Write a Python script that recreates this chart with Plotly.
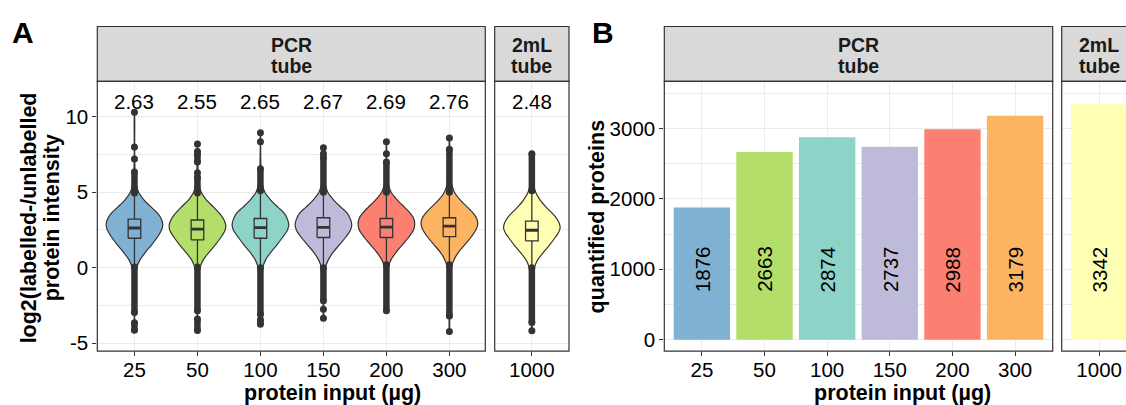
import plotly.graph_objects as go

W, H = 1126, 405
FONT = "Liberation Sans, Arial, sans-serif"

# ---------------- data ----------------
DOSES_PCR = ["25", "50", "100", "150", "200", "300"]
DOSES_2ML = ["1000"]
FACET_LABELS = [["PCR", "tube"], ["2mL", "tube"]]
COLORS = ["#80B1D3", "#B3DE69", "#8DD3C7", "#BEBADA", "#FB8072", "#FDB462", "#FFFFB3"]

MEDIAN_LABELS = ["2.63", "2.55", "2.65", "2.67", "2.69", "2.76", "2.48"]
BOX_Q1 = [1.95, 1.84, 1.95, 2.00, 2.00, 2.06, 1.78]
BOX_MED = [2.63, 2.55, 2.65, 2.67, 2.69, 2.76, 2.48]
BOX_Q3 = [3.22, 3.16, 3.26, 3.31, 3.26, 3.31, 3.09]
WHISK_LO = [0.05, 0.05, 0.0, 0.0, 0.2, 0.2, 0.0]
WHISK_HI = [4.95, 4.95, 5.1, 5.0, 5.0, 5.0, 5.1]

# dense outlier runs [low, high] per group
OUTLIER_RUNS = [
    [[4.95, 6.35], [-2.98, 0.05], [-4.15, -3.65]],
    [[4.95, 6.0], [7.0, 7.5], [-2.86, 0.05], [-4.17, -3.4]],
    [[5.1, 6.55], [-3.1, 0.0], [-3.75, -3.45]],
    [[5.0, 7.3], [-2.2, 0.0]],
    [[5.0, 7.0], [-2.86, 0.2]],
    [[5.0, 7.85], [-3.2, 0.2]],
    [[5.1, 7.55], [-3.64, 0.0]],
]
# isolated outliers per group
OUTLIER_POINTS = [
    [10.3, 8.0, 7.2],
    [8.2, 7.7, 6.3],
    [8.95, 8.35],
    [7.95, 7.55, -2.76, -3.35],
    [8.35, 7.55],
    [8.6, -4.23],
    [-4.18],
]

# violin outlines: y levels and half-widths (category units)
VIOLIN_Y = [
    [-4.18, -3, -2, -1, -0.5, 0, 0.5, 1, 1.5, 2, 2.5, 2.85, 3.2, 3.6, 4, 4.5, 5, 5.5, 6, 7, 8, 10.3],
    [-4.18, -3, -2, -1, -0.5, 0, 0.5, 1, 1.5, 2, 2.4, 2.75, 3.1, 3.5, 4, 4.5, 5, 5.5, 6, 7, 8.2],
    [-3.75, -3, -2, -1, -0.5, 0, 0.5, 1, 1.5, 2, 2.5, 2.85, 3.2, 3.6, 4, 4.5, 5, 5.5, 6, 7, 8, 8.95],
    [-3.35, -2, -1, -0.5, 0, 0.5, 1, 1.5, 2, 2.5, 2.85, 3.2, 3.6, 4, 4.5, 5, 5.5, 6, 7, 7.95],
    [-2.86, -2, -1, -0.5, 0, 0.5, 1, 1.5, 2, 2.5, 2.9, 3.3, 3.7, 4, 4.5, 5, 5.5, 6, 7, 8.35],
    [-4.23, -3, -2, -1, -0.5, 0, 0.5, 1, 1.5, 2, 2.5, 2.9, 3.3, 3.7, 4, 4.5, 5, 5.5, 6, 7, 8.6],
    [-4.18, -3, -2, -1, -0.5, 0, 0.5, 1, 1.5, 2, 2.3, 2.65, 3.0, 3.4, 4, 4.5, 5, 5.5, 6, 7, 7.55],
]
VIOLIN_W = [
    [0.002, 0.003, 0.005, 0.01, 0.018, 0.035, 0.085, 0.17, 0.27, 0.36, 0.43, 0.45, 0.43, 0.37, 0.27, 0.15, 0.065, 0.03, 0.014, 0.005, 0.003, 0.001],
    [0.002, 0.003, 0.005, 0.01, 0.018, 0.04, 0.09, 0.18, 0.28, 0.37, 0.43, 0.45, 0.43, 0.37, 0.26, 0.14, 0.06, 0.028, 0.013, 0.005, 0.001],
    [0.002, 0.003, 0.005, 0.01, 0.018, 0.035, 0.08, 0.16, 0.26, 0.35, 0.43, 0.45, 0.43, 0.38, 0.28, 0.16, 0.07, 0.032, 0.015, 0.006, 0.003, 0.001],
    [0.002, 0.004, 0.009, 0.016, 0.03, 0.075, 0.15, 0.25, 0.35, 0.43, 0.45, 0.43, 0.38, 0.28, 0.16, 0.07, 0.032, 0.016, 0.006, 0.001],
    [0.002, 0.004, 0.008, 0.014, 0.028, 0.07, 0.15, 0.25, 0.35, 0.43, 0.45, 0.43, 0.36, 0.29, 0.17, 0.075, 0.034, 0.016, 0.006, 0.001],
    [0.002, 0.003, 0.005, 0.009, 0.015, 0.03, 0.07, 0.14, 0.24, 0.34, 0.42, 0.45, 0.43, 0.36, 0.29, 0.17, 0.08, 0.038, 0.018, 0.007, 0.001],
    [0.002, 0.003, 0.006, 0.012, 0.02, 0.04, 0.09, 0.18, 0.28, 0.37, 0.42, 0.45, 0.43, 0.37, 0.23, 0.13, 0.06, 0.028, 0.014, 0.005, 0.001],
]
LABEL_Y_A = 11.0

BAR_VALUES = [1876, 2663, 2874, 2737, 2988, 3179, 3342]
BAR_LABEL_Y = 1000

Y_TICKS_A = [-5, 0, 5, 10]
Y_TICKTEXT_A = ["-5", "0", "5", "10"]
Y_TICKS_B = [0, 1000, 2000, 3000]
Y_TICKTEXT_B = ["0", "1000", "2000", "3000"]

X_TITLE = "protein input (µg)"
Y_TITLE_A = ["log2(labelled-/unlabelled", "protein intensity"]
Y_TITLE_B = "quantified proteins"

# ---------------- layout geometry (pixels) ----------------
def fx(px):
    return px / W

def fy(py):
    return 1 - py / H

PLOT_TOP, PLOT_BOT = 82.0, 353.7
STRIP_TOP = 26.7
PANELS = {
    "x": (97.3, 485.3), "x2": (494.7, 569.0),
    "x3": (664.3, 1052.7), "x4": (1061.7, 1126.0),
}
BORDER = "#333333"
GRID = "#EBEBEB"
BOX_HALF = 0.1

fig = go.Figure()

n_pcr = len(DOSES_PCR)
all_doses = DOSES_PCR + DOSES_2ML

def axes_for(i, panel):
    if i < n_pcr:
        return ("x", "y", i) if panel == "A" else ("x3", "y3", i)
    return ("x2", "y2", i - n_pcr) if panel == "A" else ("x4", "y4", i - n_pcr)

def add_line(xs, ys, xa, ya, width, mode="lines", msize=0):
    fig.add_trace(go.Scatter(
        x=xs, y=ys, mode=mode, line=dict(color=BORDER, width=width),
        marker=dict(color=BORDER, size=msize), xaxis=xa, yaxis=ya,
        showlegend=False, hoverinfo="skip"))

# ---------------- panel A: violins + boxplots ----------------
for i in range(len(all_doses)):
    xa, ya, c = axes_for(i, "A")
    ys = VIOLIN_Y[i]
    ws = VIOLIN_W[i]
    vx = [c + w for w in ws] + [c - w for w in ws[::-1]] + [c + ws[0]]
    vy = list(ys) + list(ys[::-1]) + [ys[0]]
    fig.add_trace(go.Scatter(
        x=vx, y=vy, mode="lines", fill="toself", fillcolor=COLORS[i],
        line=dict(color=BORDER, width=1.2, shape="spline", smoothing=0.8),
        xaxis=xa, yaxis=ya, hoverinfo="skip", showlegend=False))
    # whiskers
    add_line([c, c, None, c, c], [BOX_Q3[i], WHISK_HI[i], None, BOX_Q1[i], WHISK_LO[i]], xa, ya, 1.3)
    # box
    fig.add_trace(go.Scatter(
        x=[c - BOX_HALF, c + BOX_HALF, c + BOX_HALF, c - BOX_HALF, c - BOX_HALF],
        y=[BOX_Q1[i], BOX_Q1[i], BOX_Q3[i], BOX_Q3[i], BOX_Q1[i]],
        mode="lines", fill="toself", fillcolor=COLORS[i],
        line=dict(color=BORDER, width=1.3), xaxis=xa, yaxis=ya,
        showlegend=False, hoverinfo="skip"))
    # median
    add_line([c - BOX_HALF, c + BOX_HALF], [BOX_MED[i], BOX_MED[i]], xa, ya, 2.8)
    # outliers
    for lo, hi in OUTLIER_RUNS[i]:
        add_line([c, c], [lo, hi], xa, ya, 6.5, mode="lines+markers", msize=7)
    pts = OUTLIER_POINTS[i]
    add_line([c] * len(pts), pts, xa, ya, 0, mode="markers", msize=7)
    fig.add_annotation(x=c, y=LABEL_Y_A, xref=xa, yref=ya, text=MEDIAN_LABELS[i],
                       showarrow=False, font=dict(size=20.5, color="black", family=FONT))

# ---------------- panel B: bars ----------------
for i in range(len(all_doses)):
    xa, ya, c = axes_for(i, "B")
    fig.add_trace(go.Bar(
        x=[c], y=[BAR_VALUES[i]], width=0.9, marker=dict(color=COLORS[i], line=dict(width=0)),
        xaxis=xa, yaxis=ya, showlegend=False, hoverinfo="skip"))
    fig.add_annotation(x=c, y=BAR_LABEL_Y, xref=xa, yref=ya, text=str(BAR_VALUES[i]),
                       textangle=-90, showarrow=False,
                       font=dict(size=20.5, color="black", family=FONT))

# ---------------- axes ----------------
ydom = [fy(PLOT_BOT), fy(PLOT_TOP)]
tickfont = dict(size=20.5, color="black", family=FONT)

def mids(t):
    return [(a + b) / 2 for a, b in zip(t[:-1], t[1:])] + [t[-1] + (t[1] - t[0]) / 2, t[0] - (t[1] - t[0]) / 2]

common_x = dict(showgrid=True, gridcolor=GRID, gridwidth=1.3, zeroline=False,
                ticks="outside", ticklen=4, tickwidth=1.2, tickcolor=BORDER,
                tickfont=tickfont, showline=False, tickmode="array", fixedrange=True,
                ticklabelstandoff=-4)

def xaxis(name, labels, rng):
    d = dict(common_x)
    d.update(domain=[fx(PANELS[name][0]), fx(PANELS[name][1])],
             range=rng, tickvals=list(range(len(labels))), ticktext=labels,
             anchor="y" + name[1:] if len(name) > 1 else "y")
    return d

def yaxis(anchor, rng, ticks, ticktext, labels_on):
    return dict(domain=ydom, range=rng, anchor=anchor, tickmode="array",
                tickvals=ticks, ticktext=ticktext, showticklabels=labels_on,
                ticks="outside" if labels_on else "", ticklen=4, tickwidth=1.2,
                tickcolor=BORDER, tickfont=tickfont, showgrid=True, gridcolor=GRID,
                gridwidth=1.3, zeroline=False, showline=False, fixedrange=True,
                minor=dict(tickvals=mids(ticks), showgrid=True, gridcolor=GRID,
                           gridwidth=0.7, ticks=""))

YR_A = [-5.53, 12.35]
YR_B = [-160.6, 3666]
fig.update_layout(
    xaxis=xaxis("x", DOSES_PCR, [-0.59, 5.57]),
    xaxis2=xaxis("x2", DOSES_2ML, [-0.59, 0.59]),
    xaxis3=xaxis("x3", DOSES_PCR, [-0.6, 5.6]),
    xaxis4=xaxis("x4", DOSES_2ML, [-0.6, 0.431]),
    yaxis=yaxis("x", YR_A, Y_TICKS_A, Y_TICKTEXT_A, True),
    yaxis2=yaxis("x2", YR_A, Y_TICKS_A, Y_TICKTEXT_A, False),
    yaxis3=yaxis("x3", YR_B, Y_TICKS_B, Y_TICKTEXT_B, True),
    yaxis4=yaxis("x4", YR_B, Y_TICKS_B, Y_TICKTEXT_B, False),
)

# ---------------- panel borders & strips ----------------
shapes = []
for name, (x0, x1) in PANELS.items():
    open_right = name == "x4"
    xr0 = fx(x0)
    xr1 = fx(x1) if not open_right else 1.02
    shapes.append(dict(type="rect", xref="paper", yref="paper", x0=xr0, x1=xr1,
                       y0=fy(PLOT_TOP), y1=fy(STRIP_TOP), fillcolor="#D9D9D9",
                       line=dict(color=BORDER, width=1.2), layer="above"))
    shapes.append(dict(type="rect", xref="paper", yref="paper", x0=xr0, x1=xr1,
                       y0=fy(PLOT_BOT), y1=fy(PLOT_TOP), fillcolor="rgba(0,0,0,0)",
                       line=dict(color=BORDER, width=1.2), layer="above"))
    lab = FACET_LABELS[0] if name in ("x", "x3") else FACET_LABELS[1]
    cx = (x0 + x1) / 2 if not open_right else x0 + 37.3
    for k, line in enumerate(lab):
        fig.add_annotation(x=fx(cx), y=fy(45 + 21.5 * k), xref="paper", yref="paper",
                           text=line, showarrow=False, xanchor="center", yanchor="middle",
                           font=dict(size=19.5, color="#1A1A1A", family=FONT, weight="bold"))
fig.update_layout(shapes=shapes)

# ---------------- titles ----------------
title_font = dict(size=21.5, color="black", family=FONT, weight="bold")
fig.add_annotation(x=fx(333), y=fy(396), xref="paper", yref="paper", text=X_TITLE,
                   showarrow=False, font=title_font, xanchor="center", yanchor="middle")
fig.add_annotation(x=fx(902), y=fy(396), xref="paper", yref="paper", text=X_TITLE,
                   showarrow=False, font=title_font, xanchor="center", yanchor="middle")
for k, line in enumerate(Y_TITLE_A):
    fig.add_annotation(x=fx(29 + 23 * k), y=fy(220), xref="paper", yref="paper", text=line,
                       textangle=-90, showarrow=False, font=title_font,
                       xanchor="center", yanchor="middle")
fig.add_annotation(x=fx(597), y=fy(218), xref="paper", yref="paper", text=Y_TITLE_B,
                   textangle=-90, showarrow=False, font=title_font,
                   xanchor="center", yanchor="middle")
letter_font = dict(size=30, color="black", family=FONT, weight="bold")
fig.add_annotation(x=fx(23), y=fy(33), xref="paper", yref="paper", text="A",
                   showarrow=False, font=letter_font, xanchor="center", yanchor="middle")
fig.add_annotation(x=fx(603), y=fy(33), xref="paper", yref="paper", text="B",
                   showarrow=False, font=letter_font, xanchor="center", yanchor="middle")

fig.update_layout(
    width=W, height=H, autosize=False,
    margin=dict(l=0, r=0, t=0, b=0, pad=0),
    paper_bgcolor="white", plot_bgcolor="white",
    showlegend=False, barmode="overlay",
    font=dict(family=FONT),
)

fig.write_html("out.html", config={"displayModeBar": False})
